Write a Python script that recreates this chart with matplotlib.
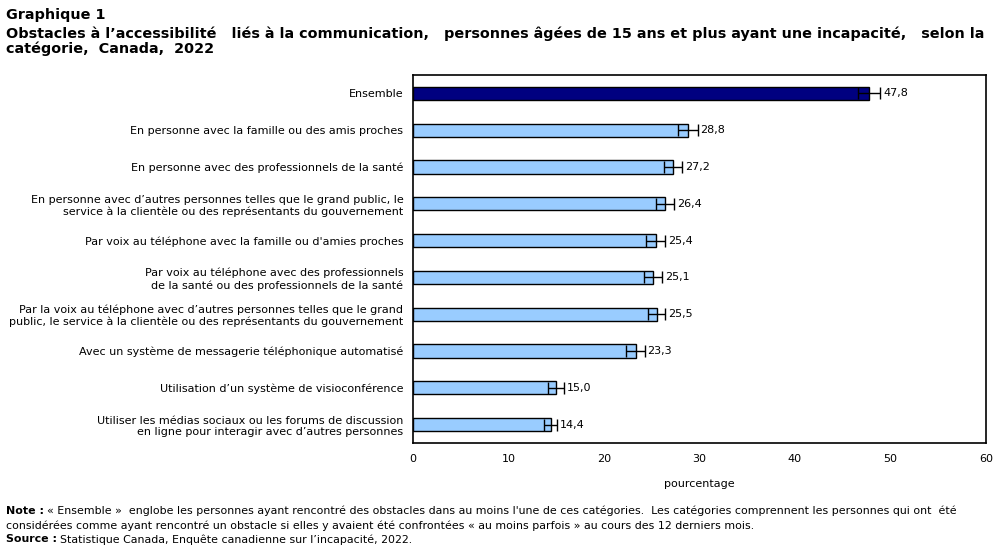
import matplotlib
matplotlib.use("Agg")
import matplotlib.pyplot as plt

categories = [
    "Ensemble",
    "En personne avec la famille ou des amis proches",
    "En personne avec des professionnels de la santé",
    "En personne avec d’autres personnes telles que le grand public, le\nservice à la clientèle ou des représentants du gouvernement",
    "Par voix au téléphone avec la famille ou d'amies proches",
    "Par voix au téléphone avec des professionnels\nde la santé ou des professionnels de la santé",
    "Par la voix au téléphone avec d’autres personnes telles que le grand\npublic, le service à la clientèle ou des représentants du gouvernement",
    "Avec un système de messagerie téléphonique automatisé",
    "Utilisation d’un système de visioconférence",
    "Utiliser les médias sociaux ou les forums de discussion\nen ligne pour interagir avec d’autres personnes",
]
values = [47.8, 28.8, 27.2, 26.4, 25.4, 25.1, 25.5, 23.3, 15.0, 14.4]
errors = [1.15, 1.0, 0.95, 0.95, 1.0, 0.95, 0.9, 0.95, 0.85, 0.65]
xticks = [0, 10, 20, 30, 40, 50, 60]

plt.rcParams["font.family"] = "DejaVu Sans"

fig = plt.figure(figsize=(10.04, 5.51), dpi=100)
ax = fig.add_axes([0.4114, 0.196, 0.5706, 0.668])

colors = ["#000080"] + ["#99CCFF"] * (len(values) - 1)
ypos = list(range(len(values)))
ax.barh(ypos, values, height=0.36, color=colors, edgecolor="black", linewidth=1.0,
        xerr=errors, error_kw=dict(ecolor="black", elinewidth=1.0, capsize=4, capthick=1.0))

for y, v, e in zip(ypos, values, errors):
    ax.text(v + e + 0.3, y, f"{v:.1f}".replace(".", ","), va="center", ha="left", fontsize=8)

ax.set_ylim(len(values) - 0.5, -0.5)
ax.set_xlim(0, 60)
ax.set_xticks(xticks)
ax.set_xticklabels([str(t) for t in xticks], fontsize=8)
ax.set_yticks(ypos)
ax.set_yticklabels(categories, fontsize=8)
ax.tick_params(axis="y", length=0, pad=7)
ax.tick_params(axis="x", length=0, pad=8)
for s in ax.spines.values():
    s.set_linewidth(1.2)
    s.set_color("black")
ax.set_xlabel("pourcentage", fontsize=8, labelpad=11)

fig.text(0.006, 0.985, "Graphique 1", fontsize=10.4, fontweight="bold", va="top")
fig.text(0.006, 0.952,
         "Obstacles à l’accessibilité   liés à la communication,   personnes âgées de 15 ans et plus ayant une incapacité,   selon la\ncatégorie,  Canada,  2022",
         fontsize=10.4, fontweight="bold", va="top", linespacing=1.05)

fig.text(0.006, 0.082, "Note :", fontsize=7.9, fontweight="bold", va="top")
fig.text(0.047, 0.082,
         "« Ensemble »  englobe les personnes ayant rencontré des obstacles dans au moins l'une de ces catégories.  Les catégories comprennent les personnes qui ont  été",
         fontsize=7.9, va="top")
fig.text(0.006, 0.056,
         "considérées comme ayant rencontré un obstacle si elles y avaient été confrontées « au moins parfois » au cours des 12 derniers mois.",
         fontsize=7.9, va="top")
fig.text(0.006, 0.030, "Source :", fontsize=7.9, fontweight="bold", va="top")
fig.text(0.060, 0.030, "Statistique Canada, Enquête canadienne sur l’incapacité, 2022.",
         fontsize=7.9, va="top")

fig.savefig("out.png", dpi=100)
